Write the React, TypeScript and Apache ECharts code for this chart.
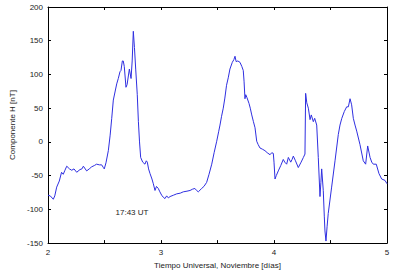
import React, { useEffect, useRef } from "react";
import * as echarts from "echarts";

const timeDays: number[] = [
  2.0, 2.02, 2.047, 2.06, 2.077, 2.1, 2.12, 2.135, 2.15, 2.166, 2.19, 2.21, 2.23, 2.254, 2.283, 2.3, 2.313, 2.342,
  2.365, 2.386, 2.41, 2.43, 2.455, 2.475, 2.49, 2.498, 2.513, 2.534, 2.55, 2.564, 2.578, 2.593, 2.608, 2.622, 2.637,
  2.646, 2.658, 2.666, 2.675, 2.69, 2.7, 2.72, 2.735, 2.745, 2.755, 2.765, 2.776, 2.79, 2.8, 2.81, 2.82, 2.838, 2.858,
  2.87, 2.879, 2.89, 2.903, 2.92, 2.932, 2.947, 2.96, 2.976, 2.99, 3.006, 3.02, 3.035, 3.05, 3.065, 3.08, 3.11, 3.139,
  3.17, 3.197, 3.23, 3.257, 3.28, 3.3, 3.315, 3.33, 3.36, 3.38, 3.404, 3.425, 3.449, 3.47, 3.493, 3.51, 3.522, 3.536,
  3.551, 3.565, 3.58, 3.595, 3.61, 3.631, 3.645, 3.655, 3.665, 3.68, 3.699, 3.715, 3.728, 3.735, 3.743, 3.75, 3.76,
  3.779, 3.79, 3.803, 3.818, 3.832, 3.847, 3.86, 3.876, 3.9, 3.92, 3.94, 3.965, 3.98, 3.994, 4.0, 4.009, 4.02, 4.038,
  4.06, 4.082, 4.095, 4.112, 4.127, 4.148, 4.16, 4.171, 4.19, 4.215, 4.24, 4.26, 4.274, 4.28, 4.29, 4.304, 4.319,
  4.33, 4.348, 4.36, 4.378, 4.392, 4.407, 4.415, 4.422, 4.436, 4.445, 4.451, 4.46, 4.47, 4.48, 4.51, 4.54, 4.569,
  4.584, 4.6, 4.622, 4.643, 4.658, 4.673, 4.687, 4.702, 4.717, 4.732, 4.761, 4.79, 4.811, 4.829, 4.85, 4.865, 4.879,
  4.905, 4.929, 4.953, 4.982, 5.0,
];

const hValues: number[] = [
  -79, -80, -85, -80, -67, -58, -45, -48, -42, -36, -40, -42, -40, -45, -41, -40, -36, -43,
  -40, -37, -35, -33, -34, -34, -38, -40, -31, -13, 10, 35, 62, 74, 86, 94, 104,
  106, 120, 120, 112, 81, 85, 108, 94, 120, 164, 140, 108, 70, 30, 0, -23, -30, -33,
  -28, -30, -40, -47, -55, -62, -72, -66, -69, -74, -79, -82, -84, -80, -83, -81, -79, -77,
  -76, -74, -73, -72, -70, -69, -72, -74, -69, -66, -60, -48, -33, -16, 1, 15, 25, 38,
  50, 65, 84, 95, 108, 118, 122, 127, 119, 120, 118, 112, 106, 90, 64, 70, 66,
  57, 50, 40, 30, 21, 1, -4, -9, -11, -13, -16, -19, -16, -17, -30, -55, -50, -43,
  -35, -26, -30, -33, -23, -30, -26, -21, -28, -38, -30, -23, -18, 72, 58, 50, 33,
  40, 30, 35, 25, -23, -81, -60, -40, -72, -110, -132, -147, -125, -106, -67, -28, 11,
  25, 35, 45, 52, 52, 64, 55, 35, 25, 16, -4, -28, -33, -6, -23, -30, -33,
  -33, -47, -55, -57, -62,
];

const xTickLabels: number[] = [2, 3, 4, 5];
const yTickLabels: number[] = [-150, -100, -50, 0, 50, 100, 150, 200];

const annotationText = "17:43 UT";
const xAxisName = "Tiempo Universal, Noviembre [días]";
const yAxisName = "Componente H [nT]";

export default function App() {
  const ref = useRef<HTMLDivElement>(null);

  useEffect(() => {
    if (!ref.current) return;
    const chart = echarts.init(ref.current, null, { renderer: "svg" });
    const font = "Liberation Sans, Arial, sans-serif";
    const textColor = "#222";
    const data = timeDays.map((t, i) => [t, hValues[i]]);
    const xMin = xTickLabels[0];
    const xMax = xTickLabels[xTickLabels.length - 1];
    const yMin = yTickLabels[0];
    const yMax = yTickLabels[yTickLabels.length - 1];

    const axisLine = { show: true, onZero: false, lineStyle: { color: "#000", width: 1 } };
    const axisTick = { show: true, inside: true, length: 3, lineStyle: { color: "#000", width: 1 } };

    chart.setOption({
      animation: false,
      backgroundColor: "#fff",
      grid: { left: 48, right: 9, top: 7, bottom: 27, containLabel: false },
      xAxis: [
        {
          type: "value",
          min: xMin,
          max: xMax,
          interval: 0.5,
          position: "bottom",
          axisLine,
          axisTick,
          splitLine: { show: false },
          axisLabel: {
            fontFamily: font,
            fontSize: 8,
            color: textColor,
            margin: 5,
            formatter: (v: number) => (xTickLabels.includes(v) ? String(v) : ""),
          },
          name: xAxisName,
          nameLocation: "middle",
          nameGap: 16,
          nameTextStyle: { fontFamily: font, fontSize: 8, color: textColor },
        },
        {
          type: "value",
          min: xMin,
          max: xMax,
          interval: 0.5,
          position: "top",
          axisLine,
          axisTick,
          splitLine: { show: false },
          axisLabel: { show: false },
        },
      ],
      yAxis: [
        {
          type: "value",
          min: yMin,
          max: yMax,
          interval: 50,
          position: "left",
          axisLine,
          axisTick,
          splitLine: { show: false },
          axisLabel: { fontFamily: font, fontSize: 8, color: textColor, margin: 5 },
          name: yAxisName,
          nameLocation: "middle",
          nameGap: 28,
          nameTextStyle: { fontFamily: font, fontSize: 8, color: textColor },
        },
        {
          type: "value",
          min: yMin,
          max: yMax,
          interval: 50,
          position: "right",
          axisLine,
          axisTick,
          splitLine: { show: false },
          axisLabel: { show: false },
        },
      ],
      series: [
        {
          type: "line",
          xAxisIndex: 0,
          yAxisIndex: 0,
          data,
          showSymbol: false,
          symbol: "none",
          lineStyle: { color: "#2f2fe0", width: 1 },
        },
      ],
      graphic: [
        {
          type: "text",
          x: 132,
          y: 212,
          style: {
            text: annotationText,
            fontFamily: font,
            fontSize: 8,
            fill: textColor,
            align: "center",
            verticalAlign: "middle",
          },
        },
      ],
    });

    return () => chart.dispose();
  }, []);

  return <div ref={ref} style={{ width: 396, height: 274, position: "absolute", left: 0, top: 0 }} />;
}
